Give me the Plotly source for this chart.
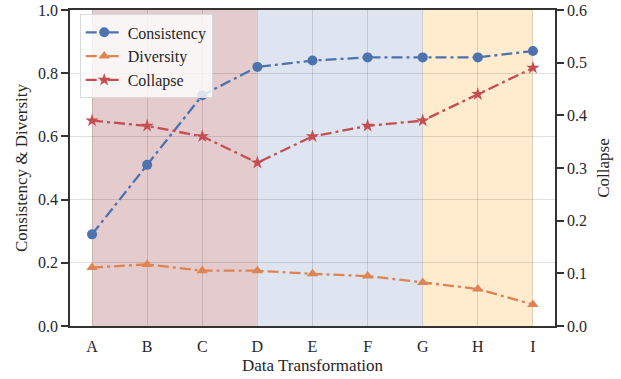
import plotly.graph_objects as go

categories = ["A", "B", "C", "D", "E", "F", "G", "H", "I"]
consistency = [0.29, 0.51, 0.73, 0.82, 0.84, 0.85, 0.85, 0.85, 0.87]
diversity = [0.185, 0.195, 0.175, 0.175, 0.165, 0.158, 0.138, 0.117, 0.068]
collapse = [0.39, 0.38, 0.36, 0.31, 0.36, 0.38, 0.39, 0.44, 0.49]

region_bounds = [(0, 3), (3, 6), (6, 8)]
region_colors = ["#E4CBCD", "#DEE5F0", "#FFEBCD"]

FONT = "Liberation Serif"
TXT = "#262626"
tf = dict(family=FONT, size=16, color=TXT)
ttf = dict(family=FONT, size=17, color=TXT)
GRID = "rgba(0,0,0,0.12)"
DASH = "11px,4px,3px,4px"

fig = go.Figure()
fig.add_trace(go.Scatter(x=categories, y=consistency, name="Consistency", mode="lines+markers",
                         line=dict(color="#4C72B0", width=2.3, dash=DASH),
                         marker=dict(symbol="circle", size=10, color="#4C72B0")))
fig.add_trace(go.Scatter(x=categories, y=diversity, name="Diversity", mode="lines+markers",
                         line=dict(color="#DD8452", width=2.3, dash=DASH),
                         marker=dict(symbol="triangle-up", size=10, color="#DD8452")))
fig.add_trace(go.Scatter(x=categories, y=collapse, name="Collapse", mode="lines+markers",
                         line=dict(color="#C44E52", width=2.3, dash=DASH),
                         marker=dict(symbol="star", size=10, color="#C44E52"),
                         yaxis="y2"))

for (a, b), c in zip(region_bounds, region_colors):
    fig.add_shape(type="rect", xref="x", yref="paper", x0=a, x1=b, y0=0, y1=1,
                  fillcolor=c, line=dict(width=0), layer="below")

fig.update_layout(
    width=621, height=379,
    margin=dict(l=70, r=66, t=10, b=53),
    paper_bgcolor="white", plot_bgcolor="white",
    font=tf,
    showlegend=True,
    legend=dict(x=0.02, y=0.986, xanchor="left", yanchor="top",
                bgcolor="rgba(255,255,255,0.8)", bordercolor="#d9d9d9", borderwidth=1,
                font=tf, tracegroupgap=0, itemwidth=37),
    xaxis=dict(type="category", range=[-0.4, 8.4], showgrid=True, automargin=False,
               gridcolor=GRID, gridwidth=1.2,
               showline=True, linecolor="#333333", linewidth=1.5, mirror=True,
               ticks="outside", ticklen=5, tickcolor="rgba(0,0,0,0)", tickfont=tf,
               title=dict(text="Data Transformation", standoff=5, font=ttf),
               zeroline=False),
    yaxis=dict(range=[0, 1], dtick=0.2, tickformat=".1f", showgrid=True, automargin=False,
               gridcolor=GRID, gridwidth=1.2,
               showline=True, linecolor="#333333", linewidth=1.5, mirror=True,
               ticks="outside", ticklen=7, tickwidth=1.5, tickcolor="#333333", tickfont=tf,
               title=dict(text="Consistency & Diversity", standoff=6, font=ttf),
               zeroline=False),
    yaxis2=dict(range=[0, 0.6], dtick=0.1, tickformat=".1f", overlaying="y", side="right",
                showgrid=False, showline=True, linecolor="#333333", linewidth=1.5, automargin=False,
                ticks="outside", ticklen=7, tickwidth=1.5, tickcolor="#333333", tickfont=tf,
                title=dict(text="Collapse", standoff=11, font=ttf),
                zeroline=False),
)

fig.write_html("out.html", config={"displayModeBar": False},
               post_script="document.body.style.margin='0';")
